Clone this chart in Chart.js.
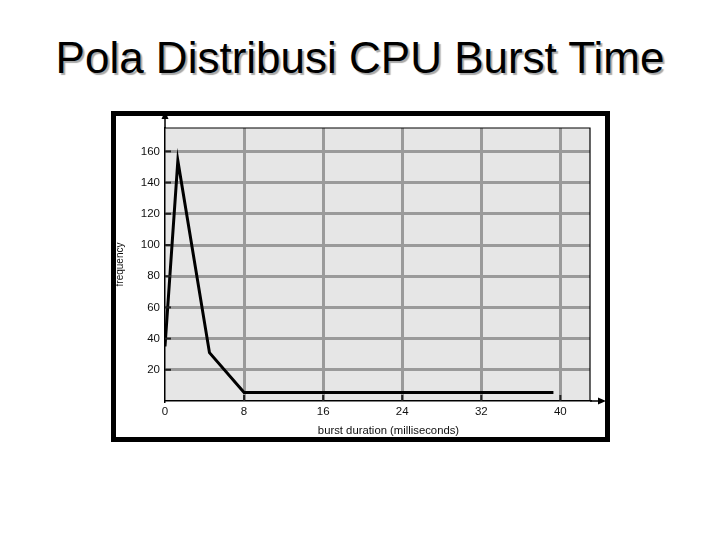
<!DOCTYPE html>
<html>
<head>
<meta charset="utf-8">
<script src="https://cdn.jsdelivr.net/npm/chart.js@4.4.0/dist/chart.umd.min.js"></script>
<style>
  html, body { margin: 0; padding: 0; background: #fff; }
  #page { position: relative; width: 720px; height: 540px; overflow: hidden; }
  #title {
    position: absolute; left: 0; top: 36px; width: 720px; text-align: center;
    font-family: "Liberation Sans", Arial, sans-serif; font-size: 44px; line-height: 44px;
    color: #000; text-shadow: 2px 2px 1px #a8a8a8;
  }
  /* black picture frame round the figure */
  #frame {
    position: absolute; left: 111px; top: 111px; width: 489px; height: 321px;
    border: 5px solid #000; pointer-events: none; z-index: 2;
  }
  canvas { position: absolute; left: 0; top: 0; }
</style>
</head>
<body>
<div id="page">
  <div id="title">Pola Distribusi CPU Burst Time</div>
  <canvas id="burstChart" width="720" height="540"></canvas>
  <div id="frame"></div>
</div>
<script>
// burst duration (ms) and how often it occurs
const burstMs   = [0, 1.3, 4.5, 8, 39.3];
const frequency = [35, 154, 31, 5.5, 5.5];

// tick labels
const xTicks = [0, 8, 16, 24, 32, 40];
const yTicks = [20, 40, 60, 80, 100, 120, 140, 160];
const xTitle = 'burst duration (milliseconds)';

const gridGray = '#9a9a9a';
const fontFam = '"Liberation Sans", Arial, sans-serif';
const arrowTip = 606;

// plot background, plot edges, inward tick marks and the axis arrows
const figureDecor = {
  id: 'figureDecor',
  beforeDraw(chart) {
    const {ctx, chartArea: a} = chart;
    ctx.save();
    ctx.fillStyle = '#e6e6e6';
    ctx.fillRect(a.left, a.top, a.right - a.left, a.bottom - a.top);
    ctx.restore();
  },
  afterDraw(chart) {
    const {ctx, chartArea: a} = chart;
    const xs = chart.scales.x, ys = chart.scales.y;
    ctx.save();
    ctx.strokeStyle = '#000';
    ctx.fillStyle = '#000';

    // top and right edge of the plot
    ctx.lineWidth = 1.2;
    ctx.beginPath();
    ctx.moveTo(a.left, a.top);
    ctx.lineTo(a.right, a.top);
    ctx.lineTo(a.right, a.bottom);
    ctx.stroke();

    // inward ticks
    ctx.strokeStyle = '#222';
    ctx.lineWidth = 2;
    ys.ticks.forEach(t => {
      const py = ys.getPixelForValue(t.value);
      ctx.beginPath();
      ctx.moveTo(a.left, py);
      ctx.lineTo(a.left + 6, py);
      ctx.stroke();
    });
    xs.ticks.forEach(t => {
      if (t.value === 0) return;
      const px = xs.getPixelForValue(t.value);
      ctx.beginPath();
      ctx.moveTo(px, a.bottom);
      ctx.lineTo(px, a.bottom - 6);
      ctx.stroke();
    });

    // axis arrows
    ctx.strokeStyle = '#000';
    ctx.lineWidth = 1.5;
    ctx.beginPath();
    ctx.moveTo(a.left, a.top);
    ctx.lineTo(a.left, 116);
    ctx.moveTo(a.right, a.bottom);
    ctx.lineTo(arrowTip - 6, a.bottom);
    ctx.stroke();
    ctx.beginPath();
    ctx.moveTo(a.left, 111);
    ctx.lineTo(a.left - 3.5, 119);
    ctx.lineTo(a.left + 3.5, 119);
    ctx.closePath();
    ctx.fill();
    ctx.beginPath();
    ctx.moveTo(arrowTip, a.bottom);
    ctx.lineTo(arrowTip - 8, a.bottom - 3.5);
    ctx.lineTo(arrowTip - 8, a.bottom + 3.5);
    ctx.closePath();
    ctx.fill();

    // x axis title, centred under the whole arrowed axis
    ctx.fillStyle = '#111';
    ctx.font = '11.3px ' + fontFam;
    ctx.textAlign = 'center';
    ctx.textBaseline = 'middle';
    ctx.fillText(xTitle, (a.left + arrowTip) / 2 + 3, 431);
    ctx.restore();
  }
};

new Chart(document.getElementById('burstChart'), {
  type: 'line',
  data: {
    datasets: [{
      data: burstMs.map((v, i) => ({x: v, y: frequency[i]})),
      borderColor: '#000',
      borderWidth: 3,
      pointRadius: 0,
      tension: 0,
      fill: false
    }]
  },
  options: {
    responsive: false,
    devicePixelRatio: 1,
    animation: false,
    layout: { padding: { left: 111, right: 130, top: 128, bottom: 98 } },
    plugins: {
      legend: { display: false },
      tooltip: { enabled: false }
    },
    scales: {
      x: {
        type: 'linear',
        min: 0,
        max: 43,
        afterBuildTicks: s => { s.ticks = xTicks.map(v => ({value: v})); },
        afterFit: s => { s.height = 41; },
        grid: {
          color: c => (c.tick && c.tick.value === 0) ? 'rgba(0,0,0,0)' : gridGray,
          lineWidth: 3,
          drawTicks: false
        },
        border: { color: '#000', width: 1.5 },
        ticks: {
          padding: 4,
          color: '#111',
          font: { family: fontFam, size: 11.5 },
          callback: v => String(v)
        },
        title: { display: false }
      },
      y: {
        min: 0,
        max: 175,
        afterBuildTicks: s => { s.ticks = yTicks.map(v => ({value: v})); },
        afterFit: s => { s.width = 54; },
        grid: {
          color: gridGray,
          lineWidth: 3,
          drawTicks: false
        },
        border: { color: '#000', width: 1.5 },
        ticks: {
          padding: 5,
          color: '#111',
          font: { family: fontFam, size: 11.5 },
          callback: v => String(v)
        },
        title: {
          display: true,
          text: 'frequency',
          color: '#111',
          font: { family: fontFam, size: 10 },
          padding: { top: 3, bottom: 0 }
        }
      }
    }
  },
  plugins: [figureDecor]
});
</script>
</body>
</html>
